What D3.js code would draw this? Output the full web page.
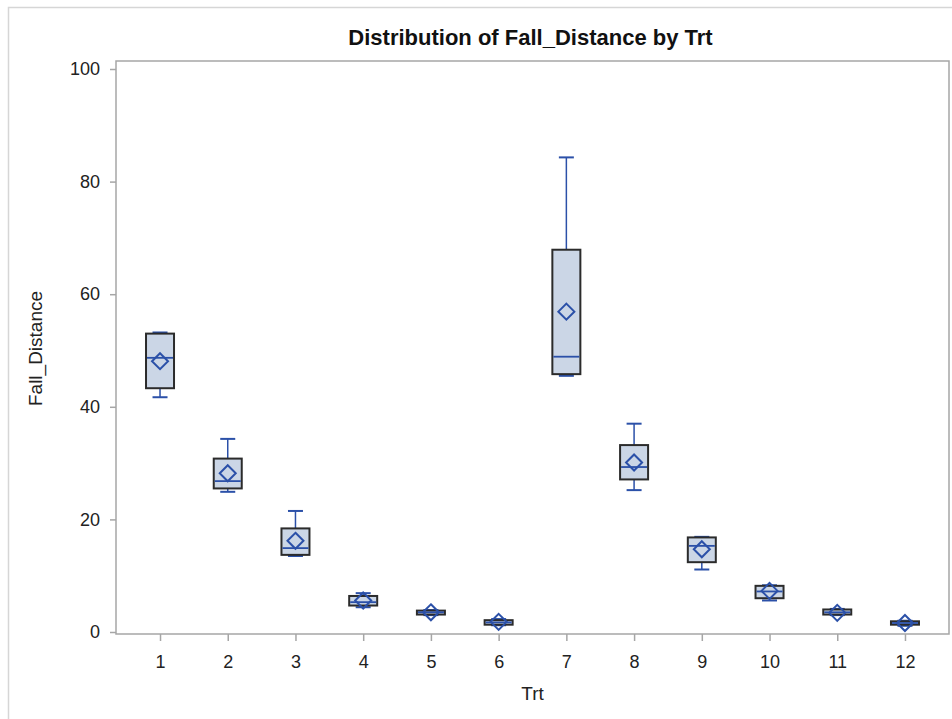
<!DOCTYPE html>
<html>
<head>
<meta charset="utf-8">
<script src="https://cdn.jsdelivr.net/npm/d3@7"></script>
<style>
  html, body { margin: 0; padding: 0; background: #fff; }
  svg { display: block; font-family: Arial, "Liberation Sans", sans-serif; }
</style>
</head>
<body>
<script>
// Box-plot summary statistics of Fall_Distance for each treatment group
const treatments  = ["1","2","3","4","5","6","7","8","9","10","11","12"];
const whiskerLow  = [41.7, 24.9, 13.5, 4.4, 3.0, 1.2, 45.5, 25.2, 11.1, 5.6, 3.0, 1.1];
const quartile1   = [43.3, 25.5, 13.7, 4.7, 3.1, 1.3, 45.8, 27.1, 12.4, 6.0, 3.1, 1.3];
const medians     = [48.7, 26.8, 14.9, 5.3, 3.5, 1.7, 48.9, 29.3, 15.3, 7.2, 3.5, 1.6];
const quartile3   = [53.0, 30.8, 18.4, 6.4, 3.8, 2.1, 67.9, 33.2, 16.8, 8.2, 4.0, 1.9];
const whiskerHigh = [53.2, 34.3, 21.5, 6.9, 3.9, 2.3, 84.3, 37.0, 16.9, 8.3, 4.1, 2.0];
const means       = [48.1, 28.2, 16.2, 5.6, 3.5, 1.8, 56.9, 30.1, 14.7, 7.3, 3.4, 1.6];
const yTicks      = [0, 20, 40, 60, 80, 100];

const W = 952, H = 719;
const frame = { left: 116, right: 949, top: 61, bottom: 634 };
const blue = "#2b50a8", boxFill = "#cbd6e6", boxStroke = "#2b2b2b", axisCol = "#a6a6a6";
const font = "Arial, 'Liberation Sans', sans-serif";

const svg = d3.select("body").append("svg").attr("width", W).attr("height", H);

// outer graph border
svg.append("path")
  .attr("d", `M8.5,${H} V7.5 H${W}`)
  .attr("fill", "none").attr("stroke", "#d6d6d6").attr("stroke-width", 1.5);

const x = d3.scalePoint().domain(treatments).range([frame.left, frame.right]).padding(0.65);
const y = d3.scaleLinear().domain([0, 100]).range([632, 69]);

// plot frame
svg.append("rect")
  .attr("x", frame.left).attr("y", frame.top)
  .attr("width", frame.right - frame.left).attr("height", frame.bottom - frame.top)
  .attr("fill", "none").attr("stroke", axisCol).attr("stroke-width", 1.5);

// y axis
const yAxis = svg.append("g").attr("transform", `translate(${frame.left},0)`)
  .call(d3.axisLeft(y).tickValues(yTicks).tickSize(6).tickPadding(10).tickFormat(d3.format("d")));
yAxis.select(".domain").remove();
yAxis.selectAll(".tick line").attr("stroke", axisCol).attr("stroke-width", 1.5);
yAxis.selectAll(".tick text").attr("fill", "#222").style("font-size", "18px").style("font-family", font);

// x axis
const xAxis = svg.append("g").attr("transform", `translate(0,${frame.bottom})`)
  .call(d3.axisBottom(x).tickSize(7).tickPadding(14));
xAxis.select(".domain").remove();
xAxis.selectAll(".tick line").attr("stroke", axisCol).attr("stroke-width", 1.5);
xAxis.selectAll(".tick text").attr("fill", "#222").style("font-size", "18px").style("font-family", font);

// titles
const cx = (frame.left + frame.right) / 2;
svg.append("text").attr("x", cx - 2).attr("y", 45)
  .attr("text-anchor", "middle").attr("fill", "#111")
  .style("font-size", "22px").style("font-weight", "bold")
  .text("Distribution of Fall_Distance by Trt");
svg.append("text").attr("x", cx).attr("y", 700)
  .attr("text-anchor", "middle").attr("fill", "#222").style("font-size", "19px")
  .text("Trt");
svg.append("text").attr("transform", `translate(42,${(frame.top + frame.bottom) / 2 + 1}) rotate(-90)`)
  .attr("text-anchor", "middle").attr("fill", "#222").style("font-size", "19px")
  .text("Fall_Distance");

// boxes
const boxW = 28, capW = 15, dia = 8;
const groups = svg.append("g").selectAll("g").data(treatments).join("g")
  .attr("transform", d => `translate(${x(d)},0)`);

groups.append("line") // upper whisker
  .attr("x1", 0).attr("x2", 0)
  .attr("y1", (d, i) => y(quartile3[i])).attr("y2", (d, i) => y(whiskerHigh[i]))
  .attr("stroke", blue).attr("stroke-width", 1.5);
groups.append("line") // lower whisker
  .attr("x1", 0).attr("x2", 0)
  .attr("y1", (d, i) => y(quartile1[i])).attr("y2", (d, i) => y(whiskerLow[i]))
  .attr("stroke", blue).attr("stroke-width", 1.5);
groups.append("line") // upper cap
  .attr("x1", -capW / 2).attr("x2", capW / 2)
  .attr("y1", (d, i) => y(whiskerHigh[i])).attr("y2", (d, i) => y(whiskerHigh[i]))
  .attr("stroke", blue).attr("stroke-width", 2);
groups.append("line") // lower cap
  .attr("x1", -capW / 2).attr("x2", capW / 2)
  .attr("y1", (d, i) => y(whiskerLow[i])).attr("y2", (d, i) => y(whiskerLow[i]))
  .attr("stroke", blue).attr("stroke-width", 2);

groups.append("rect")
  .attr("x", -boxW / 2).attr("width", boxW)
  .attr("y", (d, i) => y(quartile3[i]))
  .attr("height", (d, i) => y(quartile1[i]) - y(quartile3[i]))
  .attr("fill", boxFill).attr("stroke", boxStroke).attr("stroke-width", 2);

groups.append("line") // median
  .attr("x1", -boxW / 2 + 1).attr("x2", boxW / 2 - 1)
  .attr("y1", (d, i) => y(medians[i])).attr("y2", (d, i) => y(medians[i]))
  .attr("stroke", blue).attr("stroke-width", 1.8);

groups.append("path") // mean marker
  .attr("d", (d, i) => {
    const cy = y(means[i]);
    return `M0,${cy - dia} L${dia},${cy} L0,${cy + dia} L${-dia},${cy} Z`;
  })
  .attr("fill", "none").attr("stroke", blue).attr("stroke-width", 2);
</script>
</body>
</html>
